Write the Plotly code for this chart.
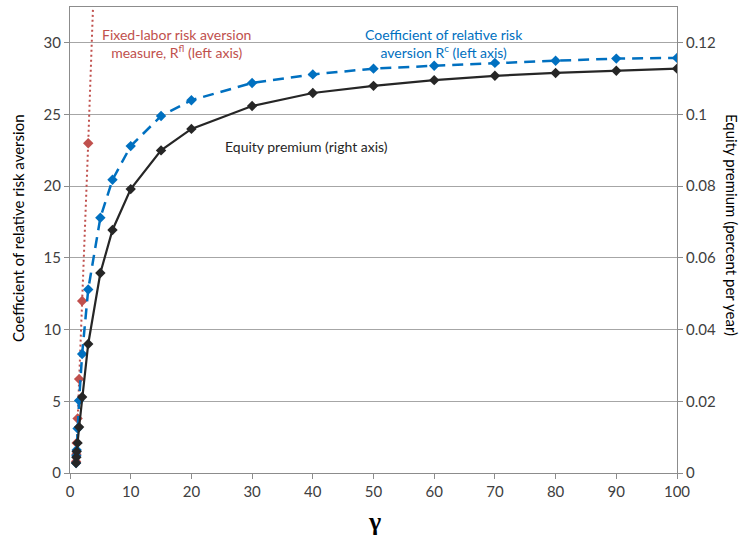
import plotly.graph_objects as go

# ---- data ----
gamma = [1, 1.05, 1.1, 1.25, 1.5, 2, 3, 5, 7, 10, 15, 20, 30, 40, 50, 60, 70, 80, 90, 100]
rel_risk_aversion = [0.7, 1.2, 1.6, 3.1, 5.05, 8.3, 12.8, 17.8, 20.45, 22.8, 24.9, 26.0,
                     27.2, 27.8, 28.2, 28.4, 28.6, 28.75, 28.9, 28.95]
equity_premium = [0.0028, 0.0044, 0.006, 0.0084, 0.0128, 0.0212, 0.036, 0.0558, 0.0678,
                  0.0792, 0.09, 0.096, 0.1024, 0.106, 0.108, 0.1096, 0.1108, 0.1116,
                  0.1122, 0.1128]
gamma_fl = [1, 1.05, 1.1, 1.25, 1.5, 2, 3, 5]
fixed_labor = [0.8, 1.3, 2.1, 3.8, 6.55, 12.0, 23.0, 47.0]

x_ticks = list(range(0, 101, 10))
left_ticks = [0, 5, 10, 15, 20, 25, 30]
right_ticks = [0, 0.02, 0.04, 0.06, 0.08, 0.1, 0.12]

FONT = "Lato"
TXT = "#404040"
GRID = "#A6A6A6"
AXIS = "#8C8C8C"

fig = go.Figure()
fig.add_trace(go.Scatter(
    x=gamma_fl, y=fixed_labor, mode="lines+markers", yaxis="y",
    line=dict(color="#C0504D", width=2, dash="2px,3px"),
    marker=dict(symbol="diamond", size=8, color="#C0504D"),
    showlegend=False))
fig.add_trace(go.Scatter(
    x=gamma, y=rel_risk_aversion, mode="lines+markers", yaxis="y",
    line=dict(color="#0070C0", width=2.5, dash="11px,7px"),
    marker=dict(symbol="diamond", size=8, color="#0070C0"),
    showlegend=False))
fig.add_trace(go.Scatter(
    x=gamma, y=equity_premium, mode="lines+markers", yaxis="y2",
    line=dict(color="#262626", width=2.2),
    marker=dict(symbol="diamond", size=8, color="#262626"),
    showlegend=False))

fig.update_layout(
    width=740, height=538,
    margin=dict(l=70, r=63, t=7, b=65),
    paper_bgcolor="white", plot_bgcolor="white",
    font=dict(family=FONT, size=15, color=TXT),
    xaxis=dict(range=[0, 100], tickvals=x_ticks, ticks="outside", ticklen=5,
               tickcolor=AXIS, showline=True, linecolor=AXIS, linewidth=1,
               mirror=True, showgrid=False, zeroline=False,
               tickfont=dict(family=FONT, size=15, color=TXT)),
    yaxis=dict(range=[0, 32.5], tickvals=left_ticks, ticks="outside", ticklen=5,
               tickcolor=AXIS, showline=True, linecolor=AXIS, linewidth=1,
               showgrid=True, gridcolor=GRID, gridwidth=1, zeroline=False,
               tickfont=dict(family=FONT, size=15, color=TXT)),
    yaxis2=dict(range=[0, 0.13], tickvals=right_ticks, ticks="outside", ticklen=5,
                tickcolor=AXIS, showline=True, linecolor=AXIS, linewidth=1,
                overlaying="y", side="right", showgrid=False, zeroline=False,
                tickfont=dict(family=FONT, size=15, color=TXT)),
)

ann = [
    dict(text="Fixed-labor risk aversion<br>measure, R<sup>fl</sup> (left axis)",
         x=176, y=43, font=dict(size=14, color="#C0504D")),
    dict(text="Coefficient of relative risk<br>aversion R<sup>c</sup> (left axis)",
         x=444, y=43, font=dict(size=14, color="#0070C0")),
    dict(text="Equity premium (right axis)", x=306, y=147,
         font=dict(size=14, color="#262626")),
    dict(text="Coefficient of relative risk aversion", x=18, y=228, textangle=-90,
         font=dict(size=15, color="#000000")),
    dict(text="Equity premium (percent per year)", x=732, y=225, textangle=90,
         font=dict(size=15, color="#000000")),
    dict(text="<b>γ</b>", x=374, y=521,
         font=dict(family="Liberation Serif", size=26, color="#000000")),
]
for a in ann:
    fig.add_annotation(
        text=a["text"], xref="paper", yref="paper",
        x=(a["x"] - 70) / (740 - 70 - 63), y=(538 - 65 - a["y"]) / (538 - 7 - 65),
        xanchor="center", yanchor="middle", showarrow=False,
        textangle=a.get("textangle", 0), font=dict(family=FONT, **a["font"]) if "family" not in a["font"] else a["font"],
        align="center")

fig.write_html("out.html")
